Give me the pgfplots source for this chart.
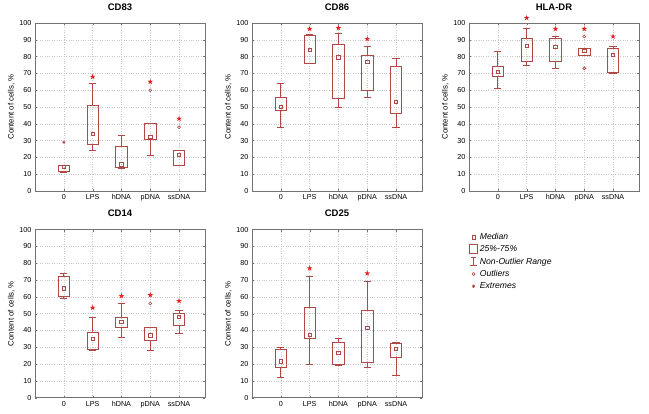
\documentclass[border=0pt]{standalone}
\usepackage{fontspec}
\setmainfont{Liberation Sans}
\usepackage{pgfplots}
\pgfplotsset{compat=1.18}
\usepgfplotslibrary{groupplots,statistics}
\usetikzlibrary{calc}

\definecolor{boxc}{RGB}{176,72,72}
\definecolor{starc}{RGB}{235,30,30}

% filled five-point star for the significance marks
\pgfdeclareplotmark{fstar}{%
  \pgfpathmoveto{\pgfqpoint{0pt}{\pgfplotmarksize}}%
  \pgfpathlineto{\pgfqpoint{-0.223\pgfplotmarksize}{0.307\pgfplotmarksize}}%
  \pgfpathlineto{\pgfqpoint{-0.951\pgfplotmarksize}{0.309\pgfplotmarksize}}%
  \pgfpathlineto{\pgfqpoint{-0.361\pgfplotmarksize}{-0.117\pgfplotmarksize}}%
  \pgfpathlineto{\pgfqpoint{-0.588\pgfplotmarksize}{-0.809\pgfplotmarksize}}%
  \pgfpathlineto{\pgfqpoint{0pt}{-0.38\pgfplotmarksize}}%
  \pgfpathlineto{\pgfqpoint{0.588\pgfplotmarksize}{-0.809\pgfplotmarksize}}%
  \pgfpathlineto{\pgfqpoint{0.361\pgfplotmarksize}{-0.117\pgfplotmarksize}}%
  \pgfpathlineto{\pgfqpoint{0.951\pgfplotmarksize}{0.309\pgfplotmarksize}}%
  \pgfpathlineto{\pgfqpoint{0.223\pgfplotmarksize}{0.307\pgfplotmarksize}}%
  \pgfpathclose\pgfusepathqfill}

% draw position, lower whisker, lower quartile, median, upper quartile, upper whisker
\newcommand{\bx}[6]{\addplot[draw=boxc, line width=0.7pt, solid,
  boxplot prepared={draw direction=y, draw position=#1, lower whisker=#2, lower quartile=#3,
    median=#4, upper quartile=#5, upper whisker=#6,
    box extend=0.4, whisker extend=0.25}] coordinates {};}
\newcommand{\med}[1]{\addplot[only marks, mark=square, mark size=1.7pt, boxc, line width=0.6pt] coordinates {#1};}
\newcommand{\outl}[1]{\addplot[only marks, mark=o, mark size=1.5pt, boxc, line width=0.6pt] coordinates {#1};}
\newcommand{\extr}[1]{\addplot[only marks, mark=asterisk, mark size=1.6pt, boxc, line width=0.6pt] coordinates {#1};}
\newcommand{\sig}[1]{\addplot[only marks, mark=fstar, mark size=3pt, starc] coordinates {#1};}

\begin{document}
\begin{tikzpicture}
\begin{groupplot}[
  group style={group size=3 by 2, horizontal sep=47pt, vertical sep=38.6pt},
  scale only axis, width=170pt, height=168pt,
  xmin=-1, xmax=4.9, ymin=0, ymax=100,
  ytick={0,10,...,100},
  xtick={0,1,2,3,4}, xticklabels={0,LPS,hDNA,pDNA,ssDNA},
  grid=major, major grid style={dotted, black!22},
  axis line style={black!55},
  tick style={black!55}, major tick length=2pt,
  tick label style={font=\fontsize{7.2}{8}\selectfont},
  /pgf/number format/assume math mode=true,
  ylabel={Content of cells, \%},
  ylabel style={font=\fontsize{7.8}{9}\selectfont, yshift=-2pt},
  title style={font=\bfseries\fontsize{9.5}{11}\selectfont, yshift=3pt},
  clip=false,
  boxplot/every median/.style={draw=none},
]
\nextgroupplot[title={CD83}]
\bx{0}{11.2}{11.6}{14.3}{15.3}{15.3}
\bx{1}{24.3}{27.9}{33.9}{51}{64}
\bx{2}{13.3}{14}{16}{26.5}{33}
\bx{3}{21.3}{31}{32.3}{40.2}{40.2}
\bx{4}{15.1}{15.1}{21.5}{24}{24}
\med{(0,14.3) (1,33.9) (2,16) (3,32.3) (4,21.5)}
\outl{(3,60) (4,38)}
\extr{(0,29)}
\sig{(1,68) (3,65) (4,43)}

\nextgroupplot[title={CD86}]
\bx{0}{38}{48}{50}{56}{64}
\bx{1}{76}{76}{84}{92.5}{93}
\bx{2}{50}{55}{79.5}{87}{94}
\bx{3}{56}{60}{77}{81}{86}
\bx{4}{38}{46}{53}{74}{79}
\med{(0,50) (1,84) (2,79.5) (3,77) (4,53)}
\sig{(1,96.5) (2,97) (3,90.5)}

\nextgroupplot[title={HLA-DR}]
\bx{0}{61}{68}{71}{74}{83}
\bx{1}{75}{77}{86.5}{91}{97}
\bx{2}{73}{77}{86}{91}{92}
\bx{3}{81}{81}{83.5}{85}{85}
\bx{4}{70}{70.5}{81}{85}{86}
\med{(0,71) (1,86.5) (2,86) (3,83.5) (4,81)}
\outl{(3,92) (3,73)}
\sig{(1,103) (2,96.5) (3,96.5) (4,92)}

\nextgroupplot[title={CD14}]
\bx{0}{59}{60}{65}{72}{74}
\bx{1}{28}{29}{35}{39}{48}
\bx{2}{36}{42}{45}{48}{56}
\bx{3}{28}{34}{37}{42}{42}
\bx{4}{38}{43}{48}{50}{52}
\med{(0,65) (1,35) (2,45) (3,37) (4,48)}
\outl{(3,56)}
\sig{(1,53.5) (2,60.5) (3,61) (4,57.5)}

\nextgroupplot[title={CD25}]
\bx{0}{12}{18}{21.5}{29}{30}
\bx{1}{20}{35}{37.5}{54}{72}
\bx{2}{19}{20}{26.5}{33}{35}
\bx{3}{18}{21}{41.5}{52}{69}
\bx{4}{13}{24}{29}{32}{33}
\med{(0,21.5) (1,37.5) (2,26.5) (3,41.5) (4,29)}
\sig{(1,77) (3,74)}

\nextgroupplot[hide axis, title={}, ylabel={},
  legend style={at={(0,0.99)}, anchor=north west, draw=none, fill=none,
    font=\itshape\fontsize{8.6}{9.5}\selectfont, row sep=0.6pt, inner sep=0pt},
  legend cell align=left]
\addlegendimage{only marks, mark=square, mark size=1.7pt, boxc, line width=0.6pt}
\addlegendentry{Median}
\addlegendimage{legend image code/.code={\draw[boxc, line width=0.7pt] (0.16cm,-0.14cm) rectangle (0.44cm,0.17cm);}}
\addlegendentry{25\%-75\%}
\addlegendimage{legend image code/.code={\draw[boxc, line width=0.7pt] (0.22cm,0.16cm) -- (0.38cm,0.16cm) (0.30cm,0.16cm) -- (0.30cm,-0.14cm) (0.19cm,-0.14cm) -- (0.41cm,-0.14cm);}}
\addlegendentry{Non-Outlier Range}
\addlegendimage{only marks, mark=o, mark size=1.5pt, boxc, line width=0.6pt}
\addlegendentry{Outliers}
\addlegendimage{only marks, mark=asterisk, mark size=1.6pt, boxc, line width=0.6pt}
\addlegendentry{Extremes}
\end{groupplot}
\path ($(group c1r1.north west)+(-35pt,23pt)$) rectangle ($(group c3r1.east |- group c1r2.south)+(10pt,-16pt)$);
\end{tikzpicture}
\end{document}
